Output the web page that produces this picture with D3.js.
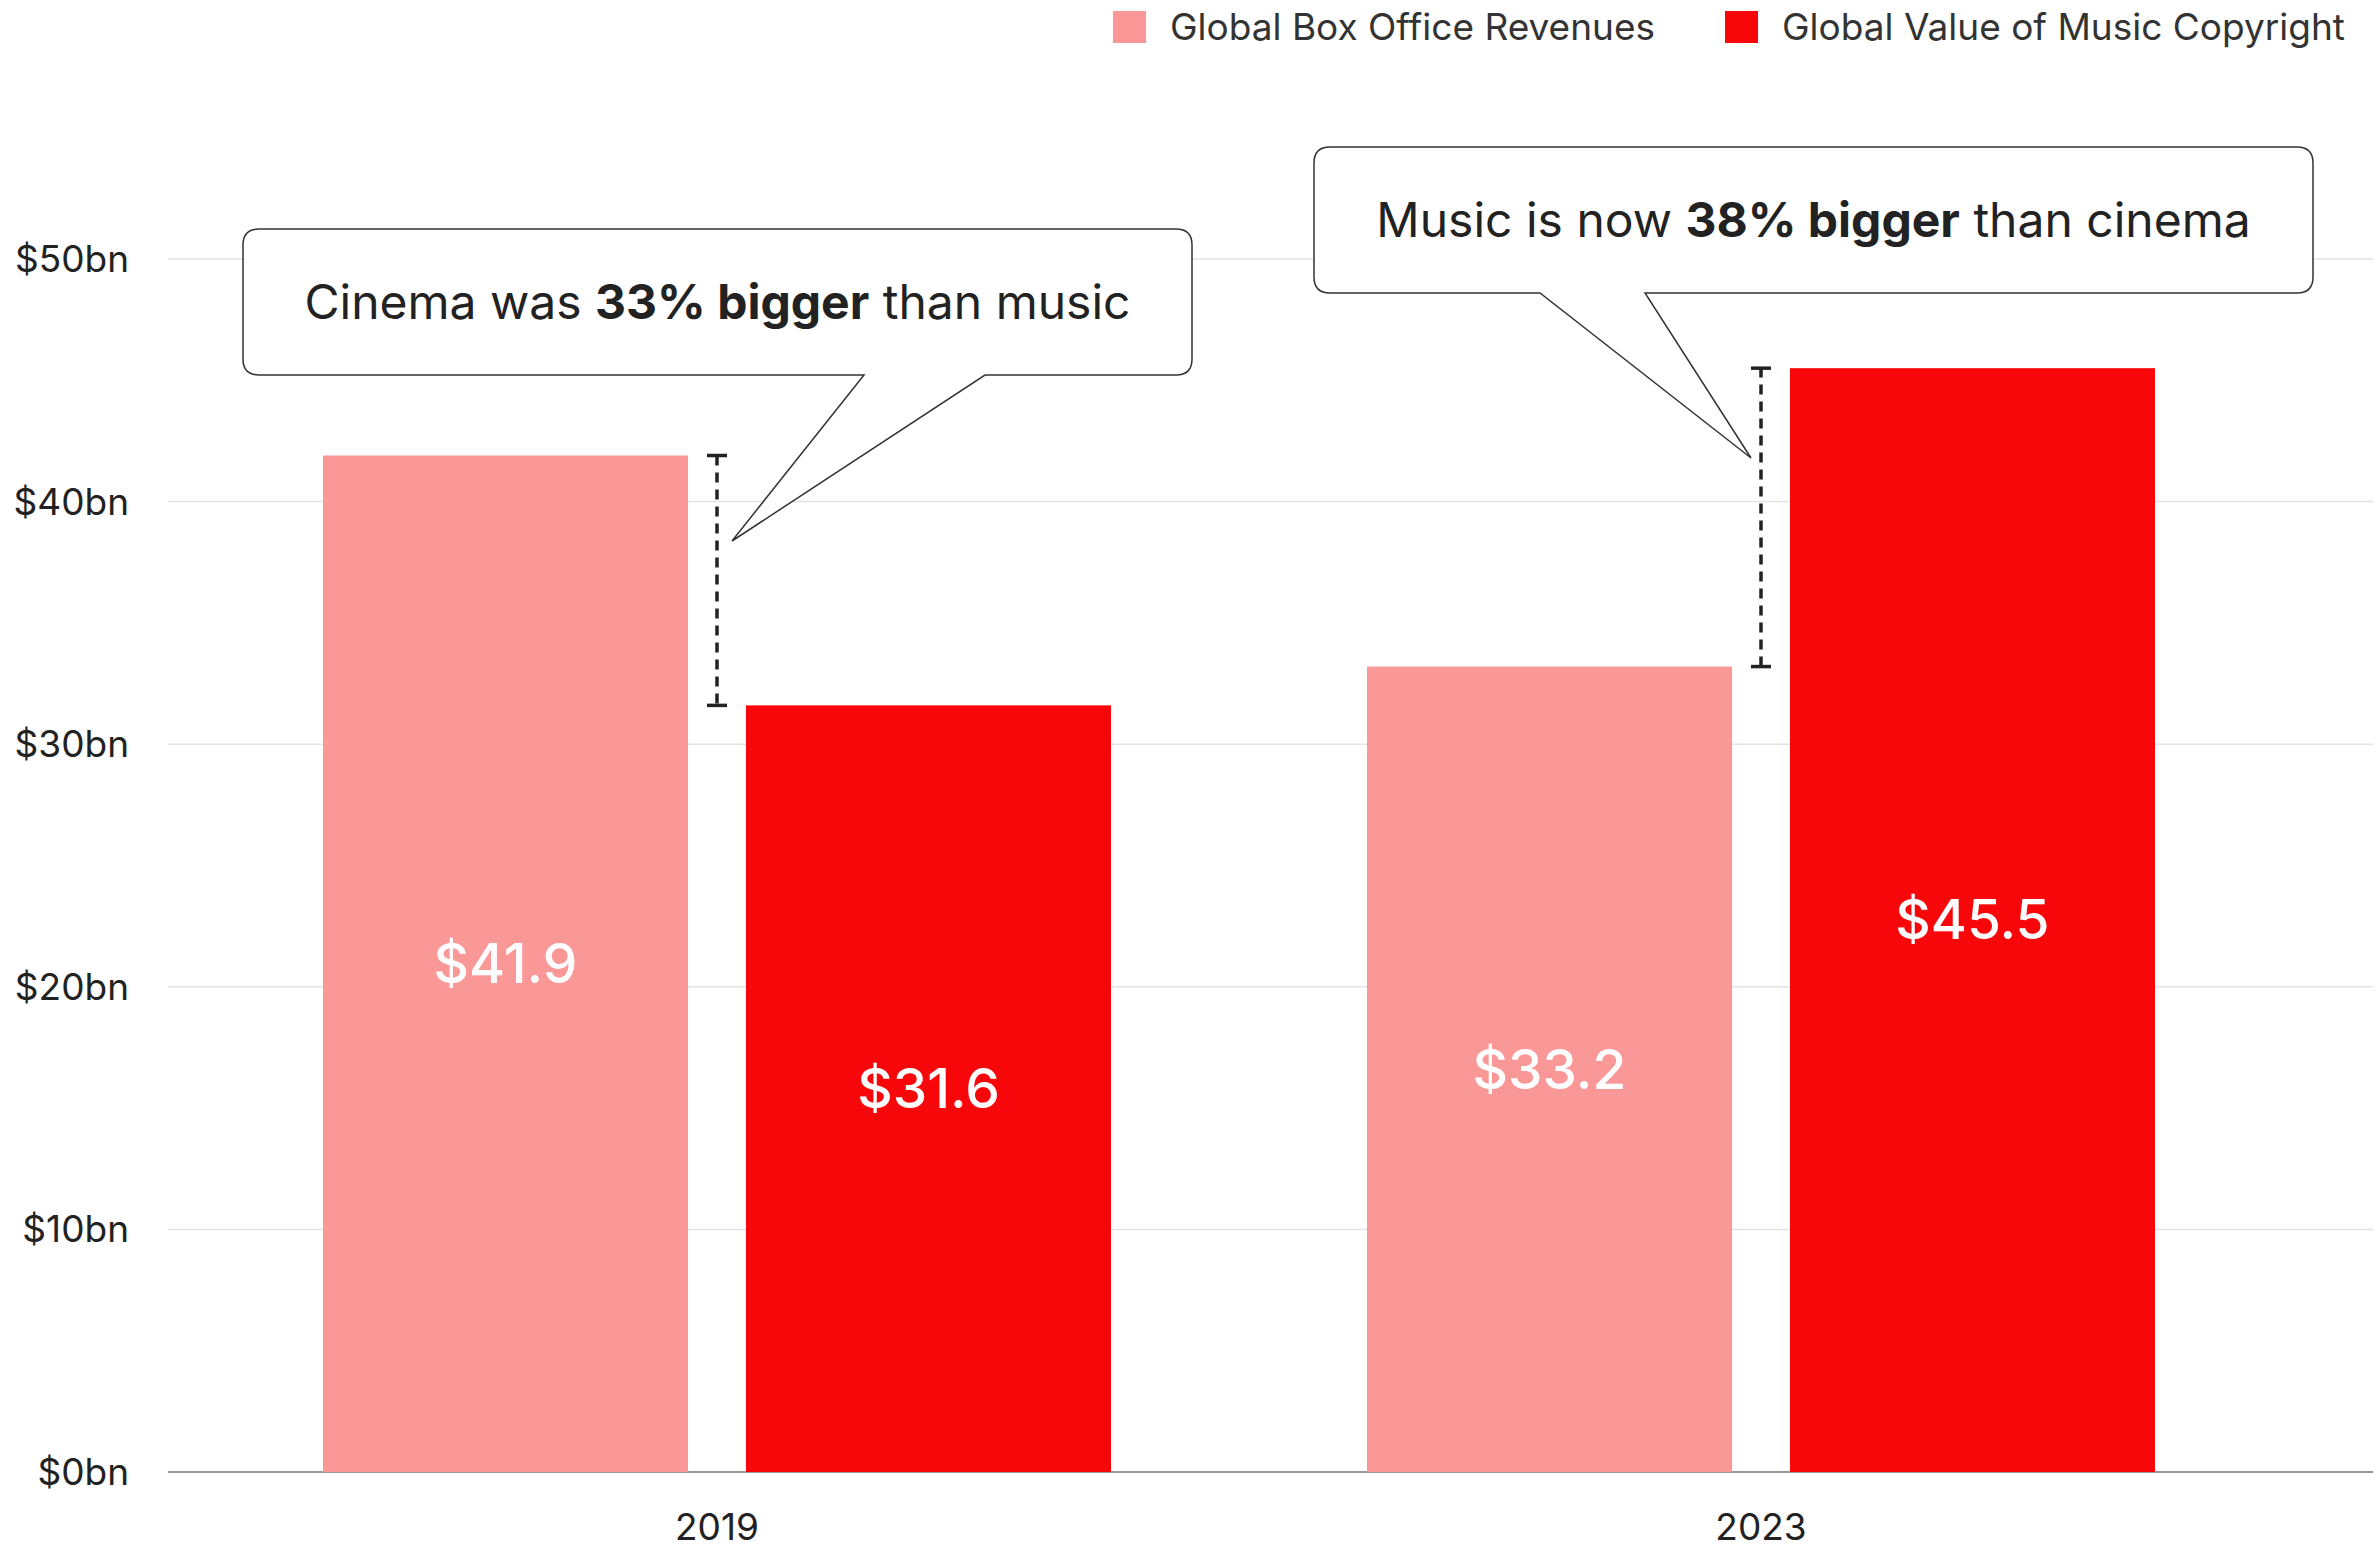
<!DOCTYPE html>
<html><head><meta charset="utf-8">
<script src="https://cdn.jsdelivr.net/npm/d3@7"></script>
<style>body{margin:0;background:#fff}text{font-family:Inter,"Noto Sans",sans-serif}</style>
</head><body><svg width="2377" height="1551"></svg>
<script>
var years = ['2019', '2023'];
var seriesNames = ['Global Box Office Revenues', 'Global Value of Music Copyright'];
var boxOffice = [41.9, 33.2];
var music = [31.6, 45.5];
var yTicks = [0, 10, 20, 30, 40, 50];
var colors = ['#f99896', '#f7060a'];

var svg = d3.select('svg');
var m = {l: 168, r: 4, t: 259, b: 79};
var W = 2377, H = 1551;

var x = d3.scaleBand().domain(years).range([195, 2283]);
var xi = d3.scaleBand().domain([0, 1]).range([0, 788]).paddingInner(0.137);
var y = d3.scaleLinear().domain([0, 50]).range([H - m.b, m.t]);

// grid
svg.selectAll('.grid').data(yTicks.slice(1)).enter().append('line')
  .attr('x1', m.l).attr('x2', W - m.r)
  .attr('y1', d => y(d)).attr('y2', d => y(d))
  .attr('stroke', '#e3e3e3').attr('stroke-width', 1.5);

svg.selectAll('.ytick').data(yTicks).enter().append('text')
  .attr('x', 129).attr('y', d => y(d)).attr('dy', '0.35em')
  .attr('text-anchor', 'end').attr('font-size', 37).attr('fill', '#222')
  .text(d => '$' + d + 'bn');

svg.append('line').attr('x1', m.l).attr('x2', W - m.r)
  .attr('y1', y(0)).attr('y2', y(0)).attr('stroke', '#999').attr('stroke-width', 2);

var rows = years.map((yr, i) => ({year: yr, vals: [boxOffice[i], music[i]]}));
var g = svg.selectAll('.yr').data(rows).enter().append('g')
  .attr('transform', d => 'translate(' + (x(d.year) + (x.bandwidth() - 788) / 2) + ',0)');
g.selectAll('rect').data(d => d.vals).enter().append('rect')
  .attr('x', (d, i) => xi(i)).attr('width', xi.bandwidth())
  .attr('y', d => y(d)).attr('height', d => y(0) - y(d))
  .attr('fill', (d, i) => colors[i]);
g.selectAll('.val').data(d => d.vals).enter().append('text')
  .attr('x', (d, i) => xi(i) + xi.bandwidth() / 2)
  .attr('y', d => (y(d) + y(0)) / 2).attr('dy', '0.35em')
  .attr('text-anchor', 'middle').attr('fill', '#fff')
  .attr('font-size', 55).attr('font-weight', 500)
  .text(d => '$' + d.toFixed(1));

svg.selectAll('.xl').data(years).enter().append('text')
  .attr('x', d => x(d) + x.bandwidth() / 2).attr('y', 1527).attr('dy', '0.35em')
  .attr('text-anchor', 'middle').attr('font-size', 37).attr('fill', '#222').text(d => d);

// legend
var lg = [{x: 1113}, {x: 1725}];
lg.forEach(function(l, i) {
  svg.append('rect').attr('x', l.x).attr('y', 11).attr('width', 33).attr('height', 32).attr('fill', colors[i]);
  svg.append('text').attr('x', l.x + 57).attr('y', 27).attr('dy', '0.35em')
    .attr('font-size', 37).attr('fill', '#333').text(seriesNames[i]);
});

// dashed difference markers
years.forEach(function(yr, i) {
  var cx = x(yr) + x.bandwidth() / 2;
  var a = y(boxOffice[i]), b = y(music[i]);
  svg.append('line').attr('x1', cx).attr('x2', cx).attr('y1', a).attr('y2', b)
    .attr('stroke', '#222').attr('stroke-width', 3.5).attr('stroke-dasharray', '10,7');
  [a, b].forEach(v => svg.append('line').attr('x1', cx - 10).attr('x2', cx + 10)
    .attr('y1', v).attr('y2', v).attr('stroke', '#222').attr('stroke-width', 3.5));
});

// callouts
function callout(bx, by, bw, bh, p1, p2, tip, parts) {
  var r = 16;
  var path = 'M' + (bx + r) + ',' + by + 'H' + (bx + bw - r) + 'Q' + (bx + bw) + ',' + by + ' ' + (bx + bw) + ',' + (by + r)
    + 'V' + (by + bh - r) + 'Q' + (bx + bw) + ',' + (by + bh) + ' ' + (bx + bw - r) + ',' + (by + bh)
    + 'H' + p2 + 'L' + tip[0] + ',' + tip[1] + 'L' + p1 + ',' + (by + bh)
    + 'H' + (bx + r) + 'Q' + bx + ',' + (by + bh) + ' ' + bx + ',' + (by + bh - r)
    + 'V' + (by + r) + 'Q' + bx + ',' + by + ' ' + (bx + r) + ',' + by + 'Z';
  svg.append('path').attr('d', path).attr('fill', '#fff').attr('stroke', '#333').attr('stroke-width', 1.5);
  var t = svg.append('text').attr('x', bx + bw / 2).attr('y', by + bh / 2).attr('dy', '0.35em')
    .attr('text-anchor', 'middle').attr('font-size', 48).attr('fill', '#222');
  parts.forEach(p => t.append('tspan').attr('font-weight', p[1] ? 700 : 400).text(p[0]));
}
callout(243, 229, 949, 146, 864, 985, [732, 541],
  [['Cinema was '], ['33% bigger', 1], [' than music']]);
callout(1314, 147, 999, 146, 1540, 1645, [1751, 458],
  [['Music is now '], ['38% bigger', 1], [' than cinema']]);
</script></body></html>
